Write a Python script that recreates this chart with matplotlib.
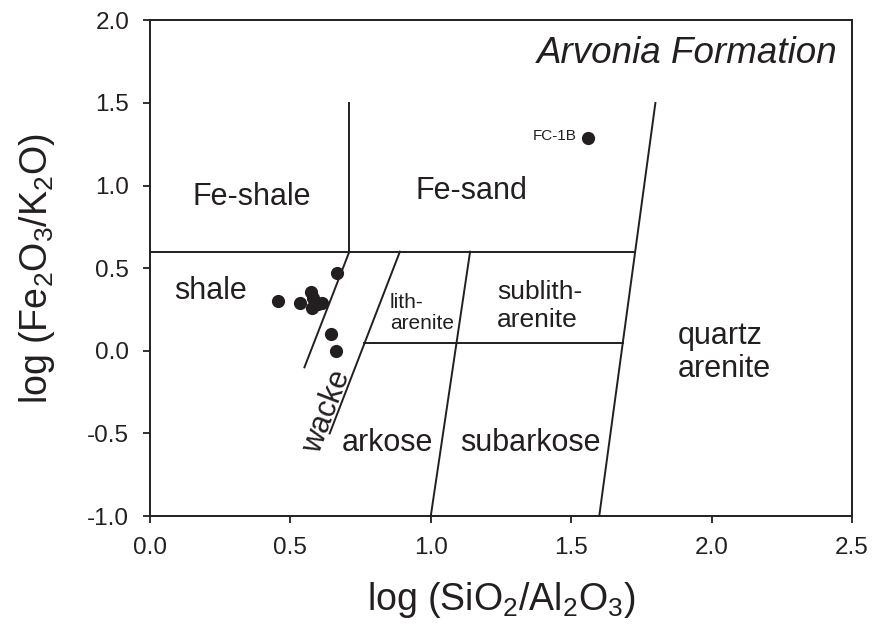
import matplotlib
matplotlib.use("Agg")
import matplotlib.pyplot as plt

plt.rcParams['font.family'] = ['Liberation Sans', 'DejaVu Sans']
plt.rcParams['mathtext.fontset'] = 'custom'
plt.rcParams['mathtext.rm'] = 'Liberation Sans'

# Sample data: log(SiO2/Al2O3), log(Fe2O3/K2O)
samp_x = [0.455, 0.535, 0.574, 0.579, 0.600, 0.577, 0.612, 0.667, 0.644, 0.662]
samp_y = [0.303, 0.289, 0.358, 0.318, 0.285, 0.258, 0.290, 0.471, 0.101, 0.000]
fc_x = [1.561]
fc_y = [1.285]
fc_label = "FC-1B"

# Classification boundaries (Herron 1988)
boundary_lines = [
    ([0.0, 1.728], [0.6, 0.6]),      # Fe horizontal
    ([0.71, 0.71], [0.6, 1.5]),      # Fe-shale / Fe-sand
    ([1.6, 1.8], [-1.0, 1.5]),       # quartz arenite
    ([0.71, 0.55], [0.6, -0.1]),     # shale / wacke
    ([0.89, 0.64], [0.6, -0.5]),     # wacke / arkose
    ([1.14, 1.0], [0.6, -1.0]),      # litharenite-arkose / sublith-subarkose
    ([0.763, 1.684], [0.05, 0.05]),  # lith / arkose split
]

fig = plt.figure(figsize=(8.72, 6.34), dpi=100)
ax = fig.add_axes([0.172, 0.186, 0.805, 0.782])

for xs, ys in boundary_lines:
    ax.plot(xs, ys, color='#231f20', lw=1.4)

ax.plot(samp_x, samp_y, 'o', color='#231f20', ms=9.5, mec='none')
ax.plot(fc_x, fc_y, 'o', color='#231f20', ms=9.5, mec='none')
ax.text(fc_x[0] - 0.04, fc_y[0] + 0.015, fc_label, fontsize=11, ha='right', va='center', color='#231f20')

tc = '#231f20'
ax.text(0.364, 0.93, "Fe-shale", fontsize=22, ha='center', va='center', color=tc)
ax.text(1.145, 0.965, "Fe-sand", fontsize=22, ha='center', va='center', color=tc)
ax.text(0.216, 0.36, "shale", fontsize=22, ha='center', va='center', color=tc)
ax.text(0.855, 0.23, "lith-\narenite", fontsize=15, ha='left', va='center', color=tc, linespacing=1.15)
ax.text(1.237, 0.27, "sublith-\narenite", fontsize=19, ha='left', va='center', color=tc, linespacing=1.2)
ax.text(1.88, -0.01, "quartz\narenite", fontsize=22, ha='left', va='center', color=tc, linespacing=1.15)
ax.text(0.846, -0.56, "arkose", fontsize=22, ha='center', va='center', color=tc)
ax.text(1.355, -0.56, "subarkose", fontsize=22, ha='center', va='center', color=tc)
ax.text(0.632, -0.37, "wacke", fontsize=22, ha='center', va='center', color=tc, rotation=69)
ax.text(2.45, 1.80, "Arvonia Formation", fontsize=26.5, style='italic', ha='right', va='center', color=tc)

ax.set_xlim(0, 2.5)
ax.set_ylim(-1.0, 2.0)
ax.set_xticks([0.0, 0.5, 1.0, 1.5, 2.0, 2.5])
ax.set_yticks([-1.0, -0.5, 0.0, 0.5, 1.0, 1.5, 2.0])
ax.set_xticklabels(["0.0", "0.5", "1.0", "1.5", "2.0", "2.5"])
ax.set_yticklabels(["-1.0", "-0.5", "0.0", "0.5", "1.0", "1.5", "2.0"])
ax.tick_params(direction='out', length=5, width=1.3, labelsize=17.5, colors=tc, pad=10)
for s in ax.spines.values():
    s.set_linewidth(1.4)
    s.set_color(tc)

ax.set_xlabel(r"log (SiO$_2$/Al$_2$O$_3$)", fontsize=27, color=tc, labelpad=15)
ax.set_ylabel(r"log (Fe$_2$O$_3$/K$_2$O)", fontsize=27, color=tc, labelpad=22)

fig.savefig("out.png", dpi=100)
